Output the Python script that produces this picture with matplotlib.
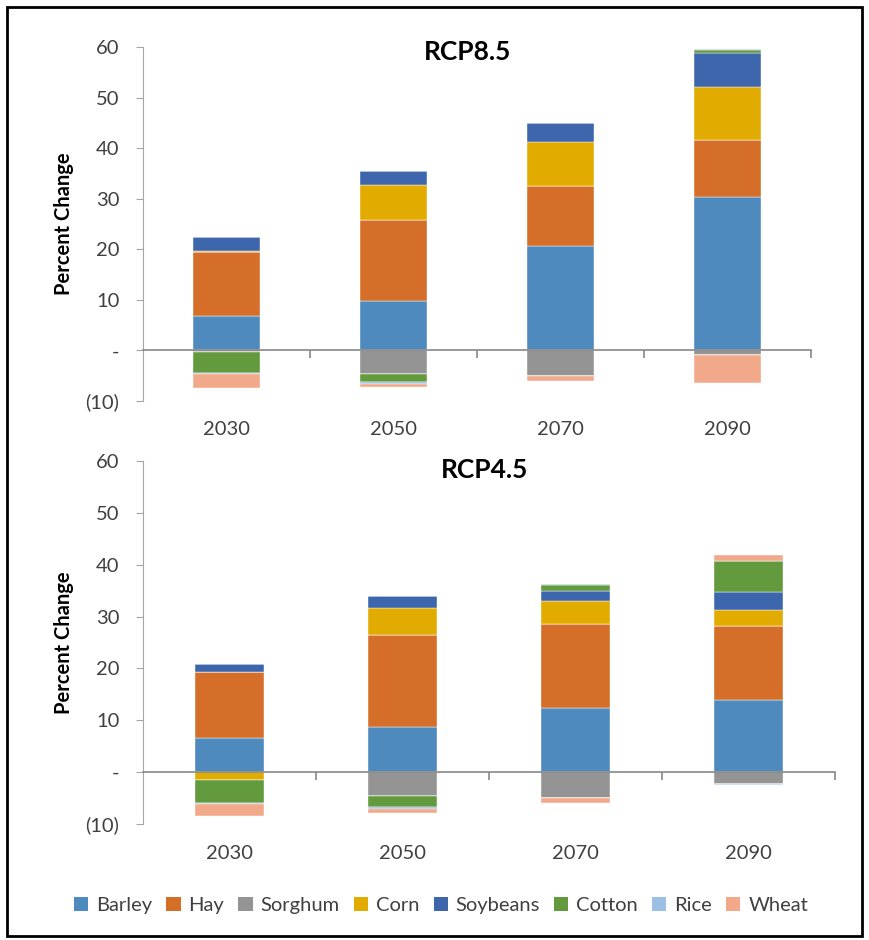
import numpy as np
import matplotlib
matplotlib.use("Agg")
import matplotlib.pyplot as plt
from matplotlib.patches import Rectangle, Patch
from matplotlib.ticker import FuncFormatter, FixedLocator

plt.rcParams['font.family'] = ['Lato', 'DejaVu Sans']

years = ['2030', '2050', '2070', '2090']
crops = ['Barley', 'Hay', 'Sorghum', 'Corn', 'Soybeans', 'Cotton', 'Rice', 'Wheat']
colors = ['#4E8ABE', '#D46E29', '#949494', '#E2AB00', '#3D66AD', '#629A3D', '#9DBFE3', '#F2A98A']

# RCP8.5 values, one list per crop (percent change)
rcp85_barley = [6.9, 9.7, 20.6, 30.3]
rcp85_hay = [12.5, 16.0, 11.9, 11.3]
rcp85_sorghum = [-0.3, -4.7, -5.1, -1.0]
rcp85_corn = [0.2, 7.0, 8.8, 10.5]
rcp85_soybeans = [2.8, 2.7, 3.6, 6.8]
rcp85_cotton = [-4.1, -1.6, 0.0, 0.6]
rcp85_rice = [-0.3, -0.3, 0.1, 0.2]
rcp85_wheat = [-2.8, -0.7, -0.9, -5.4]

# RCP4.5 values
rcp45_barley = [6.6, 8.7, 12.3, 13.9]
rcp45_hay = [12.7, 17.8, 16.2, 14.3]
rcp45_sorghum = [0.0, -4.6, -4.9, -2.2]
rcp45_corn = [-1.5, 5.2, 4.5, 3.1]
rcp45_soybeans = [1.5, 2.2, 2.0, 3.5]
rcp45_cotton = [-4.5, -2.2, 1.1, 5.9]
rcp45_rice = [-0.2, -0.4, 0.2, -0.2]
rcp45_wheat = [-2.2, -0.6, -1.1, 1.2]

rcp85 = [rcp85_barley, rcp85_hay, rcp85_sorghum, rcp85_corn,
         rcp85_soybeans, rcp85_cotton, rcp85_rice, rcp85_wheat]
rcp45 = [rcp45_barley, rcp45_hay, rcp45_sorghum, rcp45_corn,
         rcp45_soybeans, rcp45_cotton, rcp45_rice, rcp45_wheat]


def fmt_y(v, pos):
    if v == 0:
        return '-'
    if v < 0:
        return '(%d)' % abs(v)
    return '%d' % v


def draw_panel(ax, series, title, title_x, title_y):
    x = np.arange(len(years))
    pos_bottom = np.zeros(len(years))
    neg_bottom = np.zeros(len(years))
    for vals, col in zip(series, colors):
        vals = np.array(vals)
        pos = np.where(vals > 0, vals, 0)
        neg = np.where(vals < 0, vals, 0)
        ax.bar(x, pos, 0.4, bottom=pos_bottom, color=col, edgecolor='white', linewidth=0.3)
        ax.bar(x, neg, 0.4, bottom=neg_bottom, color=col, edgecolor='white', linewidth=0.3)
        pos_bottom += pos
        neg_bottom += neg

    ax.set_xlim(-0.5, len(years) - 0.5)
    ax.set_ylim(-10, 60)
    ax.set_yticks(range(-10, 61, 10))
    ax.yaxis.set_major_formatter(FuncFormatter(fmt_y))
    ax.tick_params(axis='y', length=5, color='#A6A6A6', labelsize=14.5, labelcolor='#404040', pad=12)

    for s in ['top', 'right']:
        ax.spines[s].set_visible(False)
    ax.spines['left'].set_color('#A6A6A6')
    ax.spines['bottom'].set_position(('data', 0))
    ax.spines['bottom'].set_color('#888888')
    ax.spines['bottom'].set_linewidth(1.2)

    # category boundaries as ticks on the zero line, labels sit under the plot
    ax.set_xticks([])
    ax.xaxis.set_minor_locator(FixedLocator(np.arange(0.5, len(years), 1)))
    ax.tick_params(axis='x', which='minor', length=6, color='#888888', width=1.2)
    for i, yr in enumerate(years):
        ax.text(i, -0.08, yr, transform=ax.get_xaxis_transform(), ha='center', va='center',
                fontsize=14.5, color='#404040')

    ax.set_ylabel('Percent Change', fontsize=14.5, fontweight='bold', labelpad=8)
    ax.text(title_x, title_y, title, transform=ax.transAxes, ha='center', va='center',
            fontsize=19, fontweight='bold')


fig = plt.figure(figsize=(8.7, 9.4), dpi=100)
ax1 = fig.add_axes([0.1644, 0.5734, 0.768, 0.3766])
ax2 = fig.add_axes([0.1644, 0.1234, 0.795, 0.3862])

draw_panel(ax1, rcp85, 'RCP8.5', 0.485, 0.985)
draw_panel(ax2, rcp45, 'RCP4.5', 0.494, 0.975)

handles = [Patch(facecolor=c, edgecolor='none') for c in colors]
fig.legend(handles, crops, loc='center', bbox_to_anchor=(0.507, 0.037), ncol=8,
           frameon=False, fontsize=14.5, handlelength=0.7, handleheight=0.7,
           handletextpad=0.4, columnspacing=0.7, labelcolor='#404040')

fig.add_artist(Rectangle((0.008, 0.004), 0.983, 0.989, transform=fig.transFigure,
                         fill=False, edgecolor='black', linewidth=2))

fig.savefig('out.png', dpi=100)
